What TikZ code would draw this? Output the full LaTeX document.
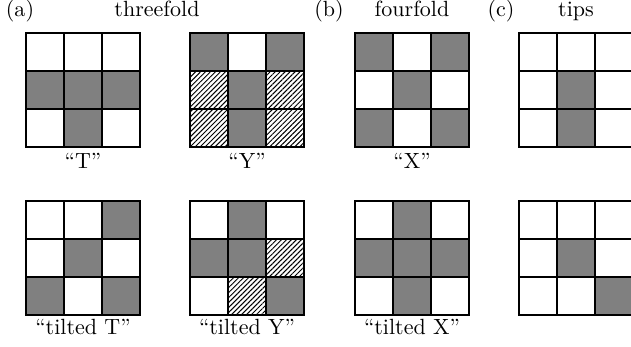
\documentclass[tikz,border=0pt]{standalone}
\usetikzlibrary{patterns.meta}
\tikzset{
  gcell/.style={fill=black!50},
  hcell/.style={pattern={Lines[angle=45,distance=1.6pt,line width=0.45pt]}},
  gridline/.style={line width=0.9pt,line cap=rect},
  lab/.style={anchor=base,inner sep=0pt}
}
\newcommand{\mygrid}[3]{%
  \foreach \c/\r/\t in {#3} {\fill[\t] (#1+\c*38,#2+\r*38) rectangle ++(38,38);}
  \foreach \i in {0,...,3} {
    \draw[gridline] (#1+\i*38,#2) -- ++(0,114);
    \draw[gridline] (#1,#2+\i*38) -- ++(114,0);
  }
}
\begin{document}
\begin{tikzpicture}[x=0.4545pt,y=-0.4545pt]
\useasboundingbox (0,0) rectangle (631,347);
% top row
\mygrid{26}{33}{0/1/gcell,1/1/gcell,2/1/gcell,1/2/gcell}
\mygrid{190}{33}{0/0/gcell,2/0/gcell,0/1/hcell,1/1/gcell,2/1/hcell,0/2/hcell,1/2/gcell,2/2/hcell}
\mygrid{355}{33}{0/0/gcell,2/0/gcell,1/1/gcell,0/2/gcell,2/2/gcell}
\mygrid{519}{33}{1/1/gcell,1/2/gcell}
% bottom row
\mygrid{26}{201}{2/0/gcell,1/1/gcell,0/2/gcell,2/2/gcell}
\mygrid{190}{201}{1/0/gcell,0/1/gcell,1/1/gcell,2/1/hcell,1/2/hcell,2/2/gcell}
\mygrid{355}{201}{1/0/gcell,0/1/gcell,1/1/gcell,2/1/gcell,1/2/gcell}
\mygrid{519}{201}{1/1/gcell,2/2/gcell}
% headers
\node[lab] (la) at (20,17) {(a)};
\node[lab] (lthree) at (157,17) {threefold};
\node[lab] (lb) at (329,17) {(b)};
\node[lab] (lfour) at (412,17) {fourfold};
\node[lab] (lc) at (501,17) {(c)};
\node[lab] (ltips) at (576,17) {tips};
% labels
\node[lab] (nT) at (83,169) {``T''};
\node[lab] (nY) at (247,169) {``Y''};
\node[lab] (nX) at (412,169) {``X''};
\node[lab] (ntT) at (83,335) {``tilted T''};
\node[lab] (ntY) at (247,335) {``tilted Y''};
\node[lab] (ntX) at (412,335) {``tilted X''};
\end{tikzpicture}
\end{document}
